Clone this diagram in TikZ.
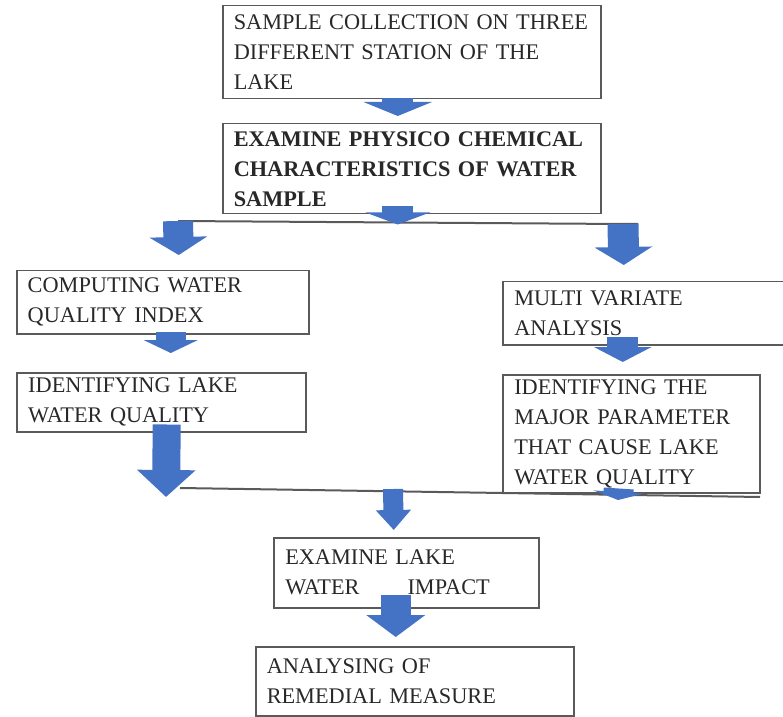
\documentclass[tikz,border=0pt]{standalone}
\usepackage{fontspec}
\setmainfont{Liberation Serif}
\usetikzlibrary{arrows.meta}
\definecolor{flowblue}{RGB}{68,114,196}
\definecolor{frame}{RGB}{90,90,90}
\definecolor{ink}{RGB}{40,40,40}
\begin{document}
\begin{tikzpicture}[x=0.5pt,y=-0.5pt,
  stage/.style={draw=frame,line width=0.75pt,anchor=north west,align=left,inner xsep=5pt,inner ysep=0pt,text=ink,font=\fontsize{11.15pt}{15pt}\selectfont},
  flow/.style n args={3}{draw=flowblue,line width=#1,-{Triangle[width=#2,length=#3]}},
  split/.style={draw=frame,line width=1pt}]
\useasboundingbox (0,0) rectangle (783,717);
\node[stage,minimum width=189pt,minimum height=46.5pt,text width=178pt] (collect) at (222,5) {\mbox{SAMPLE COLLECTION ON THREE}\\DIFFERENT STATION OF THE\\LAKE};
\node[stage,minimum width=189pt,minimum height=45pt,text width=178pt] (examine) at (222,123) {\bfseries\mbox{EXAMINE PHYSICO CHEMICAL}\\\bfseries CHARACTERISTICS OF WATER\\\bfseries SAMPLE};
\node[stage,minimum width=146pt,minimum height=31.5pt,text width=135pt] (computing) at (16,270) {COMPUTING WATER\\QUALITY INDEX};
\node[stage,minimum width=144.5pt,minimum height=29.5pt,text width=133pt] (identify) at (16,372) {IDENTIFYING LAKE\\WATER QUALITY};
\node[stage,minimum width=140.5pt,minimum height=31.5pt,text width=129pt] (multivar) at (502,281) {MULTI VARIATE\\ANALYSIS};
\node[stage,minimum width=128.5pt,minimum height=59pt,text width=117pt] (major) at (502,374) {IDENTIFYING THE\\MAJOR PARAMETER\\THAT CAUSE LAKE\\WATER QUALITY};
\node[stage,minimum width=132.5pt,minimum height=35pt,text width=121pt] (impact) at (273,537) {EXAMINE LAKE\\WATER\hspace*{24pt}IMPACT};
\node[stage,minimum width=159pt,minimum height=34.5pt,text width=148pt] (remedial) at (255,646) {ANALYSING OF\\REMEDIAL MEASURE};
\coordinate (forkL) at (178,221);
\coordinate (forkR) at (623,224);
\coordinate (mergeL) at (166,497);
\coordinate (mergeR) at (618,500);
\coordinate (mergeC) at (393,489);
\coordinate (joinL) at (180,488);
\coordinate (joinR) at (760,497);
\draw[split] (forkL) -- (forkR) -- +(15,0);
\draw[split] (joinL) -- (joinR);
\draw[flow={15.5pt}{34pt}{7pt}] ([xshift=-7pt,yshift=0.5pt]collect.south) -- ([xshift=-7pt,yshift=3.5pt]examine.north);
\draw[flow={15.5pt}{32pt}{6pt}] ([xshift=-7pt,yshift=4pt]examine.south) -- ([xshift=-7pt,yshift=-5pt]examine.south);
\draw[flow={15pt}{28.5pt}{9pt}] (forkL) -- ([xshift=8pt,yshift=7.5pt]computing.north);
\draw[flow={15.5pt}{28.5pt}{9pt}] (forkR) -- ([xshift=-9.75pt,yshift=8pt]multivar.north);
\draw[flow={15pt}{27pt}{6.5pt}] ([xshift=4pt,yshift=1.5pt]computing.south) -- ([xshift=4.75pt,yshift=9.5pt]identify.north);
\draw[flow={14pt}{28.5pt}{13.5pt}] ([xshift=2.75pt,yshift=4pt]identify.south) -- (mergeL);
\draw[flow={15.5pt}{28.5pt}{7.5pt}] ([xshift=-10.25pt,yshift=4.5pt]multivar.south) -- ([xshift=-4.25pt,yshift=6pt]major.north);
\draw[flow={15pt}{25pt}{4pt}] ([xshift=-6.25pt,yshift=2.5pt]major.south) -- (mergeR);
\draw[flow={10pt}{17pt}{10pt}] (mergeC) -- ([xshift=-6.25pt,yshift=3.5pt]impact.north);
\draw[flow={15pt}{29pt}{11pt}] ([xshift=-5.25pt,yshift=7pt]impact.south) -- ([xshift=-9.5pt,yshift=4.5pt]remedial.north);
\end{tikzpicture}
\end{document}
